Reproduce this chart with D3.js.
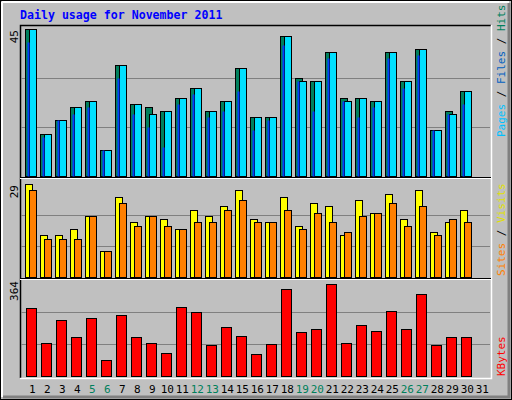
<!DOCTYPE html>
<html><head><meta charset="utf-8">
<script src="https://cdn.jsdelivr.net/npm/d3@7"></script>
<style>body{margin:0;background:#fff}svg{display:block}</style>
</head><body>
<script>
const days = d3.range(1,32);
const weekend = [5,6,12,13,19,20,26,27];
const hits  = [45,13,17,21,23,8,34,22,21,20,24,27,20,23,33,18,18,43,30,29,38,24,24,23,38,29,39,14,20,26,0];
const pages = [45,13,17,21,23,8,34,22,19,20,24,27,20,23,33,18,18,43,29,29,38,23,24,23,38,29,39,14,19,26,0];
const files = [41,12,17,19,21,8,30,19,15,9,22,25,18,20,26,14,17,40,29,20,36,23,18,21,36,27,37,14,19,22,0];
const sites = [29,13,13,15,19,8,25,17,19,18,15,21,19,22,27,18,17,25,16,23,22,13,24,20,26,18,27,14,17,21,0];
const visits= [27,12,12,12,19,8,23,16,19,16,15,17,17,21,24,17,17,21,15,20,17,14,19,20,23,16,22,13,18,17,0];
const kbytes= [260,123,211,146,222,61,230,146,126,88,264,245,115,184,153,84,119,333,165,180,349,126,192,169,249,180,314,115,146,149,0];
const maxLabels = ["45","29","364"];

const W=512,H=400;
const svg=d3.select("body").append("svg").attr("width",W).attr("height",H);
svg.append("rect").attr("width",W).attr("height",H).attr("fill","#c0c0c0");
svg.append("rect").attr("x",0.5).attr("y",0.5).attr("width",W-1).attr("height",H-1).attr("fill","none").attr("stroke","#000");
svg.append("path").attr("d","M2,2H509M2,2V397").attr("stroke","#fff").attr("stroke-width",2).attr("fill","none");
svg.append("path").attr("d","M509,3V397H3").attr("stroke","#808080").attr("stroke-width",3).attr("fill","none");
const mono="'DejaVu Sans Mono',monospace";
svg.append("text").attr("x",20).attr("y",19).text("Daily usage for November 2011")
  .attr("font-family",mono).attr("font-weight","bold").attr("font-size",11.6).attr("fill","#0000ff");
const L=20,T=25,R=491,B=378;
svg.append("path").attr("d",`M${L+.5},${B}V${T+.5}H${R}`).attr("stroke","#000").attr("fill","none").attr("stroke-width",1.5);
svg.append("path").attr("d",`M${R+.5},${T}V${B+.5}H${L}`).attr("stroke","#fff").attr("fill","none").attr("stroke-width",1.5);
[178.5,279.5].forEach(y=>{
  svg.append("line").attr("x1",L).attr("x2",R).attr("y1",y-1).attr("y2",y-1).attr("stroke","#000");
  svg.append("line").attr("x1",L).attr("x2",R).attr("y1",y).attr("y2",y).attr("stroke","#fff");
});
const x=d3.scaleLinear().domain([1,31]).range([25.3,25.3+450]);
const yTop=d3.scaleLinear().domain([0,45]).range([176,29]);
const yMid=d3.scaleLinear().domain([0,29]).range([277,184]);
const yBot=d3.scaleLinear().domain([0,364]).range([375.5,280.5]);
function grid(y0,y1){
  [1/3,2/3].forEach(f=>{const y=Math.round(y0-(y0-y1)*f)+0.5;
   svg.append("line").attr("x1",L+1).attr("x2",R-1).attr("y1",y).attr("y2",y).attr("stroke","#808080");});
}
grid(176,29);grid(277,184);grid(375.5,280.5);
function bars(data,ys,dx,w,fill,stroke=true){
  svg.append("g").selectAll("rect").data(days.filter((d,i)=>data[i]>0)).join("rect")
    .attr("x",d=>Math.round(x(d)+dx)+0.5).attr("width",w)
    .attr("y",d=>Math.round(ys(data[d-1]))+0.5).attr("height",d=>Math.round(ys(0))-Math.round(ys(data[d-1])))
    .attr("fill",fill).attr("stroke",stroke?"#000":"none");
}
bars(hits,yTop,0,7,"#00805c");
bars(pages,yTop,4,7,"#00e0ff");
bars(files,yTop,1.5,2,"#0040ff",false);
bars(sites,yMid,0,7,"#ffff00");
bars(visits,yMid,4,7,"#ff8000");
bars(kbytes,yBot,1,10,"#ff0000");
svg.append("g").selectAll("text").data(days).join("text")
  .attr("x",d=>x(d)+7).attr("y",393).attr("text-anchor","middle").text(d=>d)
  .attr("font-family",mono).attr("font-size",11)
  .attr("fill",d=>weekend.includes(d)?"#00805c":"#000");
[[maxLabels[0],29],[maxLabels[1],184],[maxLabels[2],280]].forEach(([t,y])=>{
  svg.append("text").attr("transform",`translate(18,${y+1}) rotate(-90)`).attr("text-anchor","end")
   .text(t).attr("font-family",mono).attr("font-size",11).attr("fill","#000");
});
function vlabel(parts,yBottom){
  const t=svg.append("text").attr("transform",`translate(505,${yBottom}) rotate(-90)`)
    .attr("font-family",mono).attr("font-size",11);
  parts.forEach(([s,c])=>t.append("tspan").text(s).attr("fill",c));
}
vlabel([["Pages","#00c0ff"],[" / ","#000"],["Files","#0060c0"],[" / ","#000"],["Hits","#00805c"]],137);
vlabel([["Sites","#ff8000"],[" / ","#000"],["Visits","#e0e000"]],276);
vlabel([["KBytes","#ff0000"]],376);
</script>
</body></html>
